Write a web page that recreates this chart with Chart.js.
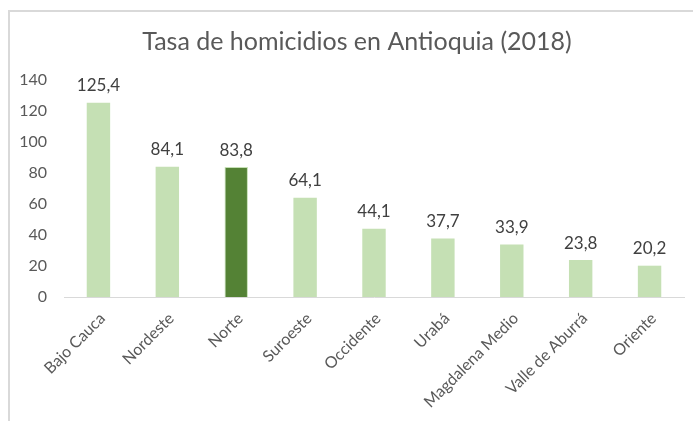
<!DOCTYPE html>
<html>
<head>
<meta charset="utf-8">
<script src="https://cdn.jsdelivr.net/npm/chart.js@4/dist/chart.umd.min.js"></script>
<style>
    html, body { margin: 0; padding: 0; background: #fff; }
    #wrap { position: relative; width: 693px; height: 421px; overflow: hidden; }
    #frame {
        position: absolute; left: 8px; top: 10px; width: 700px; height: 420px;
        border-left: 2px solid #d9d9d9; border-top: 2px solid #d9d9d9;
    }
    canvas { position: absolute; left: 0; top: 0; }
</style>
</head>
<body>
<div id="wrap">
    <div id="frame"></div>
    <canvas id="chart" width="693" height="421"></canvas>
</div>
<script>
// Chart data
const regions = ['Bajo Cauca', 'Nordeste', 'Norte', 'Suroeste', 'Occidente', 'Urabá', 'Magdalena Medio', 'Valle de Aburrá', 'Oriente'];
const rates = [125.4, 84.1, 83.8, 64.1, 44.1, 37.7, 33.9, 23.8, 20.2];
const highlighted = 'Norte';
const yTicks = [0, 20, 40, 60, 80, 100, 120, 140];
const chartTitle = 'Tasa de homicidios en Antioquia (2018)';

const LIGHT = '#c5e0b4';
const DARK = '#548235';
const TEXT = '#595959';
const FONT = "Lato, 'Open Sans', sans-serif";

// value labels above the bars, with comma decimals
const valueLabels = {
    id: 'valueLabels',
    afterDatasetsDraw(chart) {
        const ctx = chart.ctx;
        const meta = chart.getDatasetMeta(0);
        ctx.save();
        ctx.font = '17px ' + FONT;
        ctx.fillStyle = '#404040';
        ctx.textAlign = 'center';
        ctx.textBaseline = 'middle';
        meta.data.forEach((bar, i) => {
            const txt = rates[i].toFixed(1).replace('.', ',');
            ctx.fillText(txt, bar.x, bar.y - 17);
        });
        ctx.restore();
    }
};

// title centred on the outer frame rather than the canvas
const frameTitle = {
    id: 'frameTitle',
    afterDraw(chart) {
        const ctx = chart.ctx;
        ctx.save();
        ctx.font = '25px ' + FONT;
        ctx.fillStyle = TEXT;
        ctx.textAlign = 'center';
        ctx.textBaseline = 'middle';
        ctx.fillText(chartTitle, 357, 42);
        ctx.restore();
    }
};

new Chart(document.getElementById('chart'), {
    type: 'bar',
    data: {
        labels: regions,
        datasets: [{
            data: rates,
            backgroundColor: regions.map(r => r === highlighted ? DARK : LIGHT),
            borderColor: LIGHT,
            borderWidth: regions.map(r => r === highlighted ? 1 : 0),
            barPercentage: 0.34,
            categoryPercentage: 1
        }]
    },
    options: {
        responsive: false,
        animation: false,
        layout: { padding: { left: 0, right: 9, top: 80, bottom: 0 } },
        plugins: {
            legend: { display: false },
            tooltip: { enabled: false },
            title: { display: false }
        },
        scales: {
            x: {
                grid: { display: false, drawTicks: false },
                border: { display: true, color: '#d9d9d9', width: 1 },
                ticks: {
                    color: TEXT,
                    font: { family: FONT, size: 16 },
                    minRotation: 45,
                    maxRotation: 45,
                    padding: 12,
                    labelOffset: 4
                },
                afterFit(scale) { scale.height = 124; }
            },
            y: {
                min: 0,
                max: 140,
                grid: { display: false, drawTicks: false },
                border: { display: false },
                afterBuildTicks(scale) { scale.ticks = yTicks.map(v => ({ value: v })); },
                ticks: {
                    color: TEXT,
                    font: { family: FONT, size: 16 },
                    padding: 17
                },
                afterFit(scale) { scale.width = 64; }
            }
        }
    },
    plugins: [valueLabels, frameTitle]
});
</script>
</body>
</html>
